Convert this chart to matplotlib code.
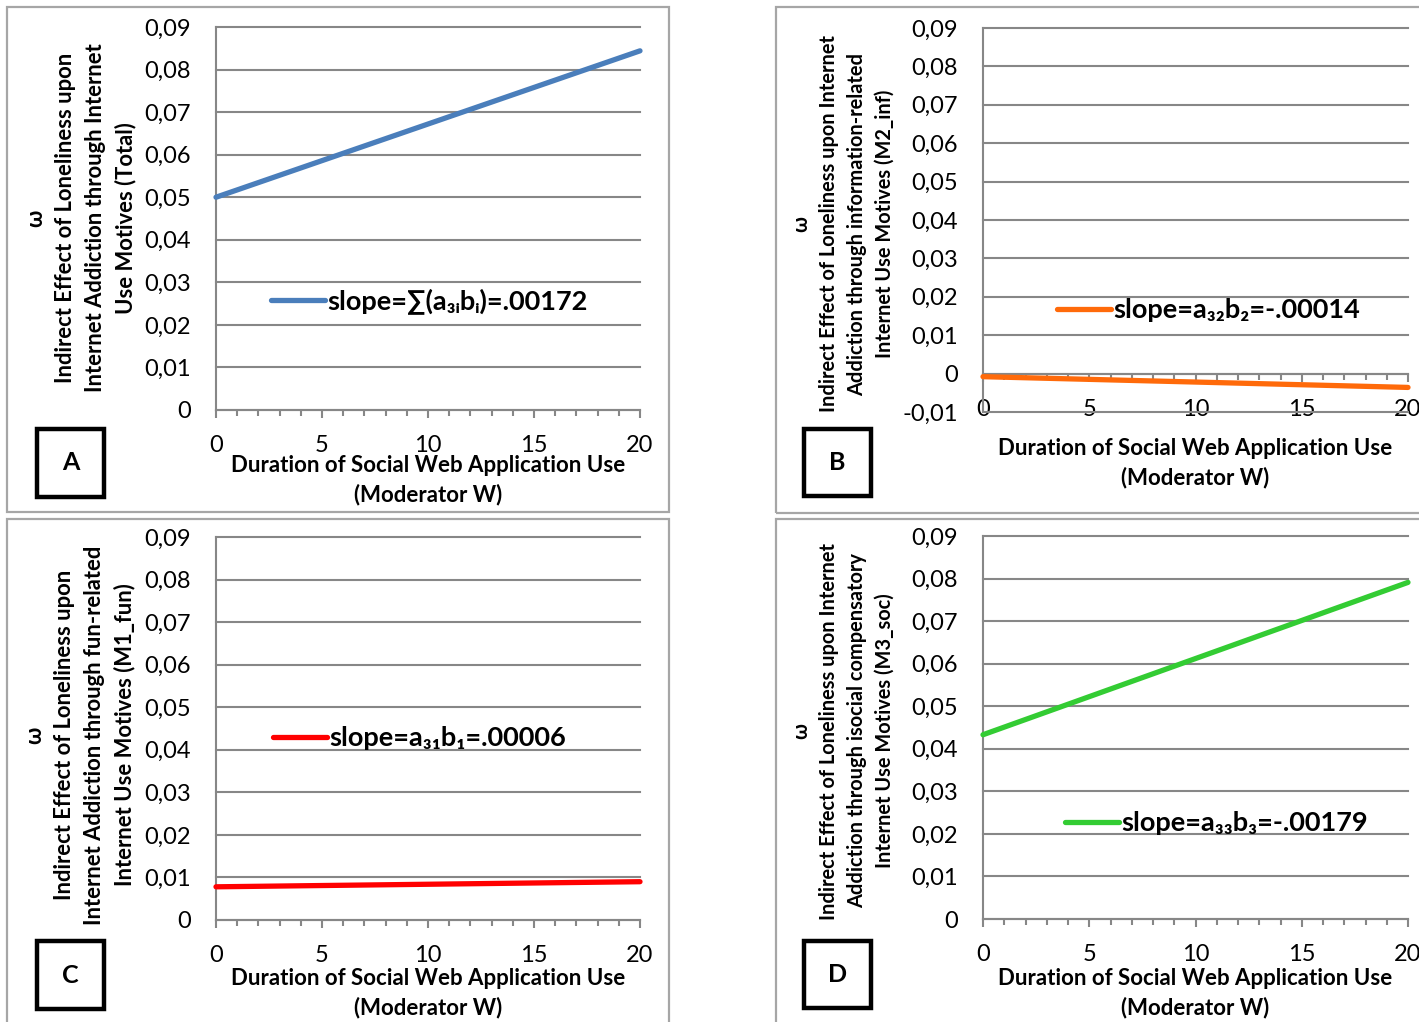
import matplotlib
matplotlib.use('Agg')
import matplotlib.pyplot as plt
from matplotlib.patches import Rectangle
from matplotlib.ticker import MultipleLocator, FuncFormatter
from matplotlib.lines import Line2D

W, H = 1419, 1022

# ---------------- data ----------------
moderator_w = [0, 20]
total_effect = [0.0500, 0.0844]
inf_effect = [-0.0008, -0.0036]
fun_effect = [0.0078, 0.0090]
soc_effect = [0.0433, 0.0791]

x_major_ticks = [0, 5, 10, 15, 20]
y_ticks_pos = [0, 0.01, 0.02, 0.03, 0.04, 0.05, 0.06, 0.07, 0.08, 0.09]
y_ticks_neg = [-0.01, 0, 0.01, 0.02, 0.03, 0.04, 0.05, 0.06, 0.07, 0.08, 0.09]

legend_a = "slope=\u2211(a\u2083\u1d62b\u1d62)=.00172"
legend_b = "slope=a\u2083\u2082b\u2082=-.00014"
legend_c = "slope=a\u2083\u2081b\u2081=.00006"
legend_d = "slope=a\u2083\u2083b\u2083=-.00179"

ylabel_a = "\u03c9\nIndirect Effect of Loneliness upon\nInternet Addiction through Internet\nUse Motives (Total)"
ylabel_b = "\u03c9\nIndirect Effect of Loneliness upon Internet\nAddiction through information-related\nInternet Use Motives (M2_inf)"
ylabel_c = "\u03c9\nIndirect Effect of Loneliness upon\nInternet Addiction through fun-related\nInternet Use Motives (M1_fun)"
ylabel_d = "\u03c9\nIndirect Effect of Loneliness upon Internet\nAddiction through isocial compensatory\nInternet Use Motives (M3_soc)"
xlabel = "Duration of Social Web Application Use\n(Moderator W)"

FAM = ['Lato', 'DejaVu Sans']
plt.rcParams['font.family'] = FAM

GRID = '#878787'
BORDER = '#A6A6A6'

fig = plt.figure(figsize=(W / 100, H / 100), dpi=100)


def fx(x):
    return x / W


def fy(y):
    return 1 - y / H


def add_ax(l, t, r, b):
    return fig.add_axes([l / W, 1 - b / H, (r - l) / W, (b - t) / H])


def fmt(v, pos):
    if abs(v) < 1e-9:
        return '0'
    return f'{v:.2f}'.replace('.', ',')


def panel(box, plot, yticks, xs, ys, color, leg_text, leg_xy, ylab, ylab_xy,
          ylab_fs, xlab_xy, letter_box, letter):
    # outer border
    bl, bt, br, bb = box
    fig.patches.append(Rectangle((fx(bl), fy(bb)), (br - bl) / W, (bb - bt) / H,
                                 transform=fig.transFigure, fill=False,
                                 edgecolor=BORDER, lw=1.6, zorder=0))
    ax = add_ax(*plot)
    ax.set_xlim(0, 20)
    ax.set_ylim(yticks[0], yticks[-1])
    ax.set_yticks(yticks)
    ax.yaxis.set_major_formatter(FuncFormatter(fmt))
    ax.set_xticks(x_major_ticks)
    ax.xaxis.set_minor_locator(MultipleLocator(1))
    ax.yaxis.grid(True, color=GRID, lw=1.5)
    for gl in ax.get_ygridlines():
        gl.set_clip_on(False)
    ax.set_axisbelow(True)
    for s in ['top', 'right']:
        ax.spines[s].set_visible(False)
    for s in ['left', 'bottom']:
        ax.spines[s].set_color(GRID)
        ax.spines[s].set_linewidth(1.5)
    if yticks[0] < 0:
        ax.spines['bottom'].set_position(('data', 0))
    ax.tick_params(axis='y', length=0, pad=18, labelsize=17, labelcolor='black')
    ax.tick_params(axis='x', which='major', length=6, width=1.5, color=GRID,
                   pad=12, labelsize=17, labelcolor='black')
    ax.tick_params(axis='x', which='minor', length=4.5, width=1.5, color=GRID)
    ax.plot(xs, ys, color=color, lw=3.8, solid_capstyle='round', clip_on=False,
            zorder=5)
    # legend
    handle = Line2D([], [], color=color, lw=3.8, solid_capstyle='round')
    fs = 19.5
    ax.legend([handle], [leg_text], loc='center left', frameon=False,
              bbox_to_anchor=(fx(leg_xy[0]), fy(leg_xy[1])),
              bbox_transform=fig.transFigure, borderpad=0, borderaxespad=0,
              handlelength=54 / (fs * 100 / 72), handletextpad=0.1,
              prop={'family': FAM, 'weight': 'bold', 'size': fs})
    # y label
    fig.text(fx(ylab_xy[0]), fy(ylab_xy[1]), ylab, rotation=90, ha='center',
             va='center', multialignment='center', fontsize=ylab_fs,
             fontweight='bold', linespacing=1.5)
    # x label
    fig.text(fx(xlab_xy[0]), fy(xlab_xy[1]), xlabel, ha='center', va='center',
             multialignment='center', fontsize=16, fontweight='bold',
             linespacing=1.45)
    # letter box
    ll, lt, lr, lb = letter_box
    fig.patches.append(Rectangle((fx(ll), fy(lb)), (lr - ll) / W, (lb - lt) / H,
                                 transform=fig.transFigure, fill=False,
                                 edgecolor='black', lw=3.2, zorder=3))
    fig.text(fx((ll + lr) / 2), fy((lt + lb) / 2), letter, ha='center',
             va='center', fontsize=18, fontweight='bold')
    return ax


panel((7, 7, 669, 512), (216, 27, 640, 410), y_ticks_pos, moderator_w,
      total_effect, '#4A7EBB', legend_a, (271, 301), ylabel_a, (81, 218), 15.8,
      (428, 480), (37, 429, 104, 497), 'A')
panel((776, 7, 1430, 513), (983, 28, 1408, 412), y_ticks_neg, moderator_w,
      inf_effect, '#FF6A0A', legend_b, (1057, 310), ylabel_b, (843, 224), 14.4,
      (1195, 463), (804, 429, 871, 496), 'B')
panel((7, 519, 669, 1040), (216, 537, 640, 920), y_ticks_pos, moderator_w,
      fun_effect, '#FF0000', legend_c, (273, 738), ylabel_c, (80, 735), 15.8,
      (428, 993), (37, 941, 104, 1009), 'C')
panel((776, 519, 1430, 1040), (983, 536, 1408, 919), y_ticks_pos, moderator_w,
      soc_effect, '#33CC33', legend_d, (1065, 823), ylabel_d, (843, 731), 14.4,
      (1195, 993), (804, 941, 871, 1008), 'D')

fig.savefig('out.png', dpi=100)
